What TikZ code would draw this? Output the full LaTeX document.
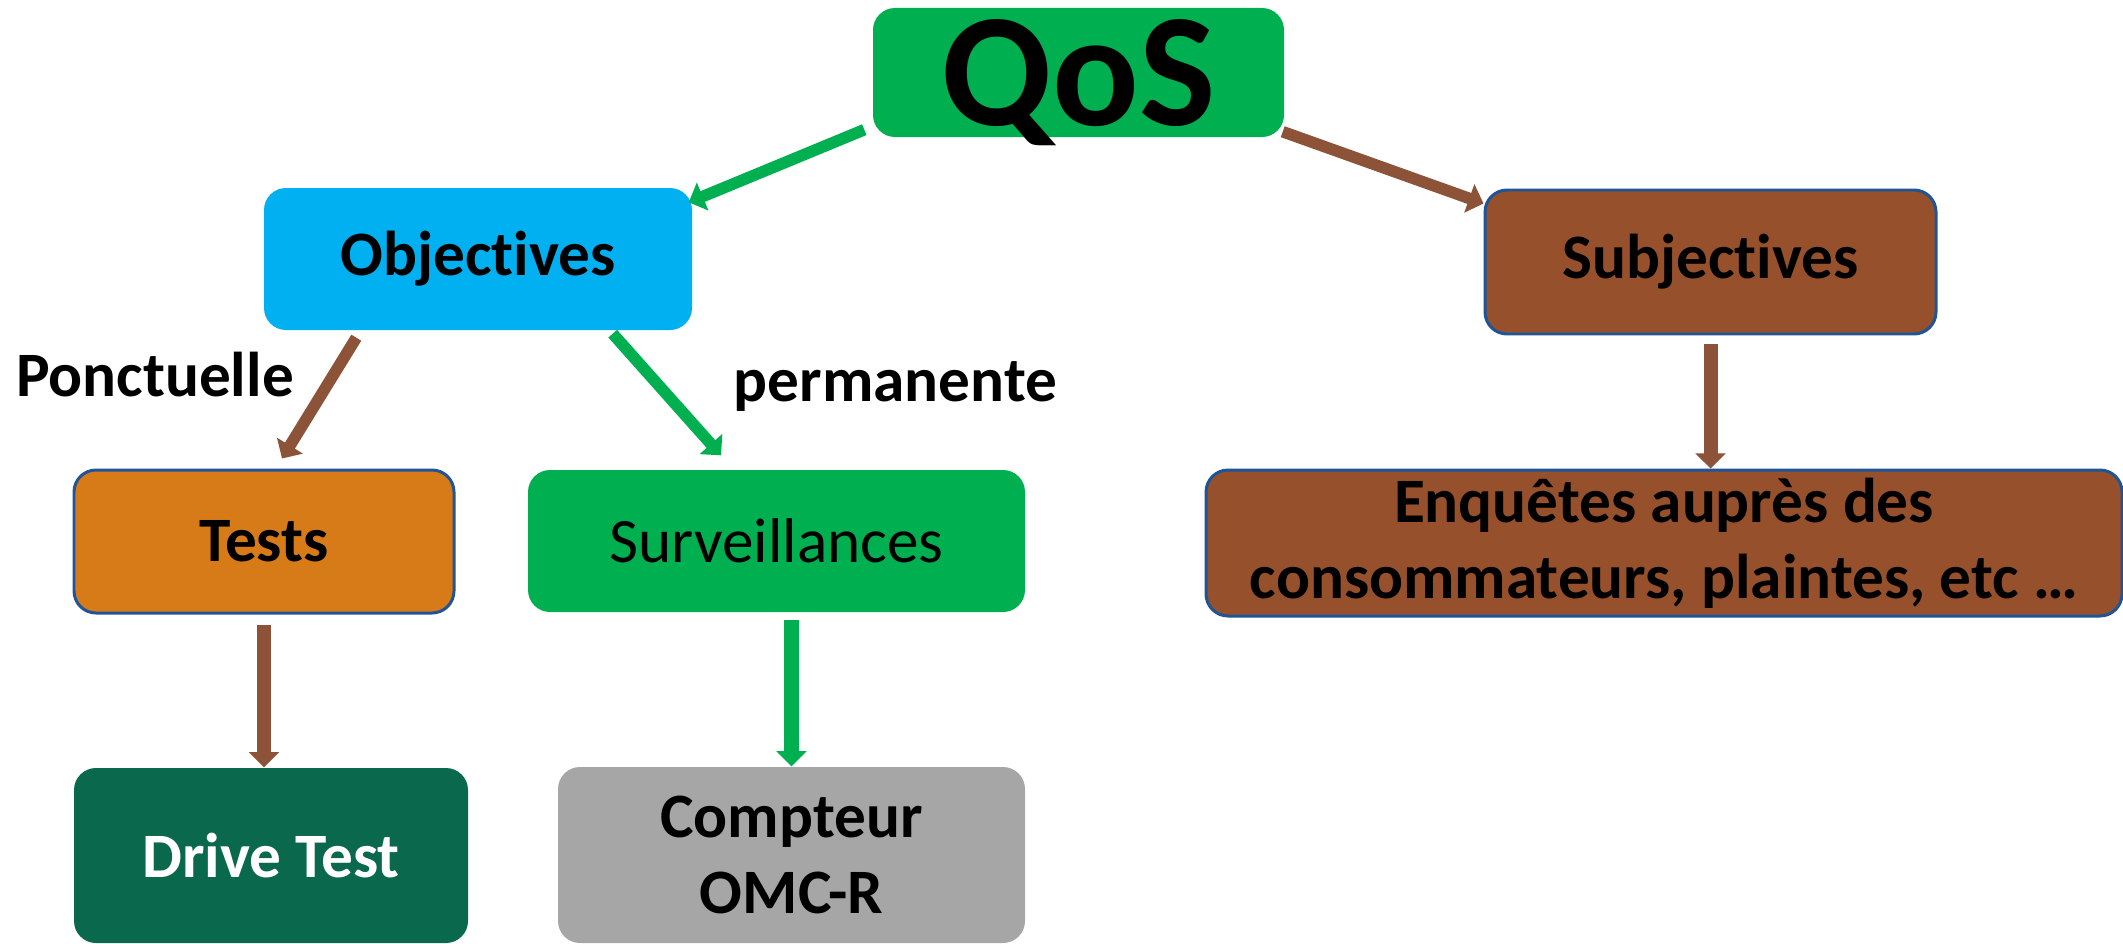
\documentclass[tikz,border=0pt]{standalone}
\usepackage{fontspec}
\setmainfont{Carlito}[Ligatures=NoCommon]
\usepackage{xcolor}
\usepackage{tikz}
\usetikzlibrary{arrows.meta,calc}
\definecolor{QosGreen}{HTML}{00B050}
\definecolor{QosBlue}{HTML}{00B0F0}
\definecolor{QosBrown}{HTML}{96502C}
\definecolor{QosOrange}{HTML}{D77B18}
\definecolor{QosDeepGreen}{HTML}{0A684D}
\definecolor{QosGrey}{HTML}{A6A6A6}
\definecolor{QosEdge}{HTML}{1F5596}
\definecolor{QosArrowBrown}{HTML}{8C5338}
\newcommand{\BoxText}{\fontsize{18}{21.6}\selectfont}
\newcommand{\TitleText}{\fontsize{46}{50}\selectfont\bfseries}
\tikzset{
  qos box/.style={rounded corners=0.22cm,inner sep=0pt,align=center,font=\BoxText\bfseries},
  edged/.style={draw=QosEdge,line width=0.85pt},
  green link/.style={draw=QosGreen,line width=3.3pt,-{Triangle[width=8.4pt,length=4.3pt]}},
  brown link/.style={draw=QosArrowBrown,line width=3.3pt,-{Triangle[width=8.4pt,length=4.3pt]}},
  branch label/.style={anchor=base,inner sep=0pt,font=\BoxText\bfseries,text=black}
}

\begin{document}
\begin{tikzpicture}[x=1cm,y=1cm]
  \path[use as bounding box] (0,0) rectangle (21.23,9.43);

  % top
  \node[qos box,fill=QosGreen,minimum width=4.11cm,minimum height=1.29cm,font=\TitleText,
    text height=30pt,text depth=0pt]
    (qos) at (10.785,8.705) {QoS};

  % second row
  \node[qos box,fill=QosBlue,minimum width=4.28cm,minimum height=1.42cm]
    (obj) at (4.78,6.84) {Objectives};
  \node[qos box,edged,fill=QosBrown,minimum width=4.51cm,minimum height=1.44cm]
    (subj) at (17.105,6.81) {Subjectives};

  % third row
  \node[qos box,edged,fill=QosOrange,minimum width=3.80cm,minimum height=1.43cm]
    (tests) at (2.64,4.015) {Tests};
  \node[qos box,fill=QosGreen,minimum width=4.97cm,minimum height=1.42cm,font=\BoxText]
    (surv) at (7.765,4.02) {Surveillances};
  \node[qos box,edged,fill=QosBrown,minimum width=9.16cm,minimum height=1.46cm]
    (enq) at (16.64,4.0) {Enquêtes auprès des\\consommateurs, plaintes, etc …};

  % bottom row
  \node[qos box,fill=QosDeepGreen,text=white,minimum width=3.94cm,minimum height=1.75cm]
    (drive) at (2.71,0.875) {Drive Test};
  \node[qos box,fill=QosGrey,minimum width=4.67cm,minimum height=1.76cm]
    (comp) at (7.915,0.88) {Compteur\\OMC-R};

  \node[branch label] (ponct) at (1.55,5.47) {Ponctuelle};
  \node[branch label] (perm) at (8.955,5.42) {permanente};

  \draw[green link] ($(qos.south west)+(-0.08,0.08)$) -- ($(obj.north east)+(-0.04,-0.15)$);
  \draw[brown link] ($(qos.south east)+(-0.02,0.06)$) -- ($(subj.north west)+(0,-0.15)$);
  \draw[brown link] ($(obj.south west)+(0.93,-0.07)$) -- ($(tests.north)+(0.18,0.10)$);
  \draw[green link] ($(obj.south east)+(-0.80,-0.03)$) -- ($(surv.north)+(-0.555,0.14)$);
  \draw[brown link,line width=4pt] ($(subj.south)+(0,-0.09)$) -- (subj.south |- enq.north);
  \draw[brown link,line width=4pt] ($(tests.south)+(0,-0.10)$) -- (tests.south |- drive.north);
  \draw[green link,line width=4pt] ($(comp.north |- surv.south)+(0,-0.07)$) -- (comp.north);
\end{tikzpicture}
\end{document}
